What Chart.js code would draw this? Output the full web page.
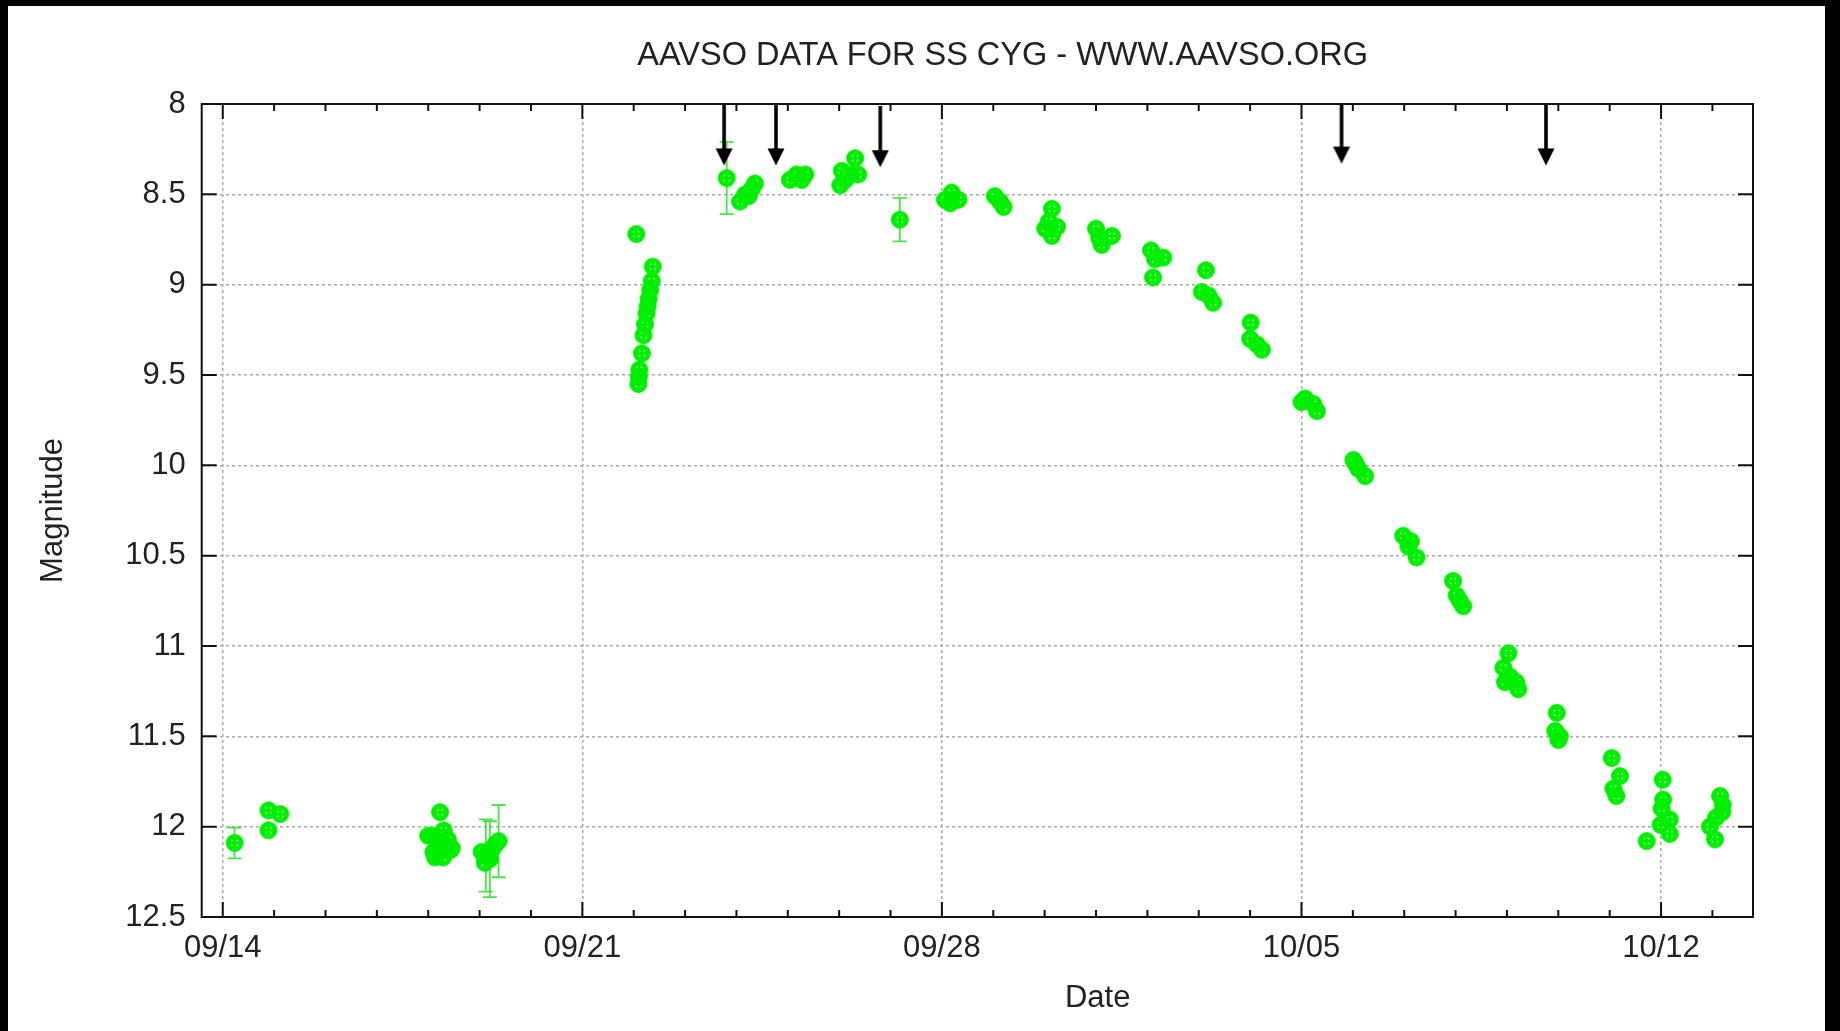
<!DOCTYPE html>
<html>
<head>
<meta charset="utf-8">
<script src="https://cdn.jsdelivr.net/npm/chart.js@4.4.1/dist/chart.umd.min.js"></script>
<style>
  html, body { margin: 0; padding: 0; background: #000; }
  #frame { position: absolute; left: 8px; top: 6px; width: 1817px; height: 1025px; background: #fff; }
  canvas { display: block; }
</style>
</head>
<body>
<div id="frame"><canvas id="lightCurve" width="1817" height="1025"></canvas></div>
<script>
// days counted from 09/14 (0h)
const visDays = [
  0.89, 1.12, 0.89,
  4.23, 4.07, 4.17, 4.36, 4.13, 4.30, 4.43, 4.00, 4.29, 4.46, 4.20, 4.38, 4.10,
  5.04, 5.25, 5.10, 5.30,
  8.05, 8.09, 8.11, 8.16, 8.19, 8.22, 8.25, 8.29, 8.32, 8.35, 8.37, 8.10, 8.27,
  10.07, 10.17, 10.30, 10.36, 10.24,
  11.04, 11.17, 11.34, 11.27,
  12.02, 12.05, 12.21, 12.31, 12.37, 12.12,
  14.06, 14.19, 14.32, 14.16,
  15.03, 15.20, 15.13,
  16.14, 16.01, 16.24, 16.14, 16.08,
  17.00, 17.11, 17.31, 17.06,
  18.07, 18.15, 18.31, 18.11,
  19.14, 19.06, 19.19, 19.28,
  20.01, 20.00, 20.13, 20.23,
  21.00, 21.07, 21.23, 21.30,
  22.01, 22.05, 22.11, 22.24,
  22.98, 23.08, 23.13, 23.24,
  23.95, 24.02, 24.08, 24.15,
  25.03, 24.93, 25.06, 24.96, 25.18, 25.22,
  25.97, 25.94, 26.00, 26.03,
  27.04, 27.20, 27.07, 27.13,
  27.72,
  28.03, 28.04, 28.01, 28.17, 27.99, 28.17,
  29.15, 29.19, 29.07, 28.95, 29.05, 29.20
];
const visMags = [
  11.91, 11.93, 12.02,
  11.92, 12.05, 12.13, 12.12, 12.17, 12.02, 12.13, 12.05, 12.17, 12.12, 12.08, 12.07, 12.14,
  12.14, 12.12, 12.20, 12.10,
  8.72, 9.55, 9.47, 9.38, 9.28, 9.22, 9.16, 9.08, 9.03, 8.98, 8.90, 9.51, 9.12,
  8.54, 8.50, 8.47, 8.44, 8.51,
  8.42, 8.39, 8.39, 8.42,
  8.45, 8.37, 8.39, 8.30, 8.39, 8.42,
  8.53, 8.49, 8.53, 8.55,
  8.51, 8.57, 8.54,
  8.58, 8.69, 8.68, 8.73, 8.65,
  8.69, 8.78, 8.73, 8.74,
  8.81, 8.86, 8.85, 8.96,
  8.92, 9.04, 9.06, 9.10,
  9.21, 9.30, 9.33, 9.36,
  9.65, 9.63, 9.66, 9.70,
  9.97, 9.99, 10.02, 10.06,
  10.39, 10.45, 10.42, 10.51,
  10.64, 10.72, 10.75, 10.78,
  11.04, 11.12, 11.17, 11.20, 11.20, 11.24,
  11.37, 11.47, 11.52, 11.50,
  11.62, 11.72, 11.79, 11.83,
  12.08,
  11.74, 11.85, 11.90, 11.96, 11.99, 12.04,
  11.83, 11.92, 11.95, 12.00, 12.07, 11.88
];

// observations reported with an uncertainty
const errDays  = [0.23, 5.12, 5.20, 5.37, 9.81, 13.18];
const errMags  = [12.09, 12.16, 12.18, 12.08, 8.41, 8.64];
const errSizes = [0.085, 0.20, 0.21, 0.20, 0.20, 0.12];

// "fainter than" estimates
const limitDays = [9.76, 10.77, 12.80, 21.78, 25.76];
const limitMags = [8.34, 8.34, 8.35, 8.33, 8.34];

const tickDays   = [0, 7, 14, 21, 28];
const tickLabels = ['09/14', '09/21', '09/28', '10/05', '10/12'];

const GREEN = '#00ee00';
const FONT = '"Liberation Sans", Arial, Helvetica, sans-serif';

// circle with a cross, like the gnuplot point type
function makeMarker() {
    const c = document.createElement('canvas');
    c.width = 22; c.height = 22;
    const g = c.getContext('2d');
    g.strokeStyle = GREEN;
    g.lineWidth = 5.2;
    g.beginPath(); g.arc(11, 11, 6.4, 0, Math.PI * 2); g.stroke();
    g.lineWidth = 3.4;
    g.beginPath();
    g.moveTo(5, 11); g.lineTo(17, 11);
    g.moveTo(11, 5); g.lineTo(11, 17);
    g.stroke();
    return c;
}

// arrow whose tip sits at the centre of the image
function makeArrow() {
    const L = 61;
    const c = document.createElement('canvas');
    c.width = 22; c.height = L * 2;
    const g = c.getContext('2d');
    g.fillStyle = '#000';
    g.fillRect(9.2, 0, 3.6, L - 14);
    g.beginPath();
    g.moveTo(2.5, L - 17); g.lineTo(19.5, L - 17); g.lineTo(11, L);
    g.closePath(); g.fill();
    return c;
}

const errorBars = {
    id: 'errorBars',
    beforeDatasetsDraw(chart) {
        const { ctx, scales: { x, y } } = chart;
        ctx.save();
        ctx.strokeStyle = 'rgba(40, 225, 40, 0.85)';
        ctx.lineWidth = 1.8;
        errDays.forEach((d, i) => {
            const px = x.getPixelForValue(d);
            const y1 = y.getPixelForValue(errMags[i] - errSizes[i]);
            const y2 = y.getPixelForValue(errMags[i] + errSizes[i]);
            ctx.beginPath();
            ctx.moveTo(px, y1); ctx.lineTo(px, y2);
            ctx.moveTo(px - 7, y1); ctx.lineTo(px + 7, y1);
            ctx.moveTo(px - 7, y2); ctx.lineTo(px + 7, y2);
            ctx.stroke();
        });
        ctx.restore();
    }
};

// frame with inward ticks on all four sides, plus the texts
const frame = {
    id: 'frame',
    afterDraw(chart) {
        const { ctx, chartArea: a, scales: { x, y } } = chart;
        ctx.save();
        ctx.strokeStyle = '#111';
        ctx.lineWidth = 2;
        ctx.beginPath();
        for (let d = Math.ceil(x.min); d <= x.max; d++) {
            const px = x.getPixelForValue(d);
            const len = tickDays.includes(d) ? 15 : 7;
            ctx.moveTo(px, a.bottom); ctx.lineTo(px, a.bottom - len);
            ctx.moveTo(px, a.top); ctx.lineTo(px, a.top + len);
        }
        for (let m = y.min; m <= y.max + 1e-9; m += 0.5) {
            const py = y.getPixelForValue(m);
            ctx.moveTo(a.left, py); ctx.lineTo(a.left + 15, py);
            ctx.moveTo(a.right, py); ctx.lineTo(a.right - 15, py);
        }
        ctx.stroke();
        ctx.strokeRect(a.left, a.top, a.right - a.left, a.bottom - a.top);

        ctx.fillStyle = '#222';
        ctx.textAlign = 'center';
        ctx.textBaseline = 'middle';
        ctx.font = '32.5px ' + FONT;
        ctx.fillText('AAVSO DATA FOR SS CYG - WWW.AAVSO.ORG', a.left + 801, a.top - 48);
        ctx.font = '31px ' + FONT;
        ctx.fillText('Date', a.left + 896, a.bottom + 81);
        ctx.translate(45, (a.top + a.bottom) / 2);
        ctx.rotate(-Math.PI / 2);
        ctx.fillText('Magnitude', 0, 0);
        ctx.restore();
    }
};

const ctx = document.getElementById('lightCurve').getContext('2d');
new Chart(ctx, {
    type: 'scatter',
    data: {
        datasets: [
            {
                label: 'Vis.',
                data: visDays.map((d, i) => ({ x: d, y: visMags[i] }))
                    .concat(errDays.map((d, i) => ({ x: d, y: errMags[i] }))),
                pointStyle: makeMarker(),
                pointRadius: 10
            },
            {
                label: 'Fainter than',
                data: limitDays.map((d, i) => ({ x: d, y: limitMags[i] })),
                pointStyle: makeArrow(),
                pointRadius: 11
            }
        ]
    },
    options: {
        responsive: false,
        devicePixelRatio: 1,
        animation: false,
        layout: { padding: { top: 98, right: 72, bottom: 0, left: 0 } },
        plugins: {
            legend: { display: false },
            tooltip: { enabled: false },
            title: { display: false }
        },
        scales: {
            x: {
                type: 'linear',
                min: -0.41,
                max: 29.79,
                afterFit: (s) => { s.height = 114; },
                afterBuildTicks: (s) => { s.ticks = tickDays.map(v => ({ value: v })); },
                grid: { color: '#aaa', lineWidth: 1.5, drawTicks: false },
                border: { display: false, dash: [3, 3] },
                ticks: {
                    padding: 13,
                    color: '#222',
                    font: { family: FONT, size: 31 },
                    callback: (v) => tickLabels[tickDays.indexOf(v)]
                }
            },
            y: {
                reverse: true,
                min: 8,
                max: 12.5,
                afterFit: (s) => { s.width = 193.7; },
                grid: { color: '#aaa', lineWidth: 1.5, drawTicks: false },
                border: { display: false, dash: [3, 3] },
                ticks: {
                    stepSize: 0.5,
                    padding: 16,
                    color: '#222',
                    font: { family: FONT, size: 31 },
                    callback: (v) => String(Math.round(v * 10) / 10)
                }
            }
        }
    },
    plugins: [errorBars, frame]
});
</script>
</body>
</html>
